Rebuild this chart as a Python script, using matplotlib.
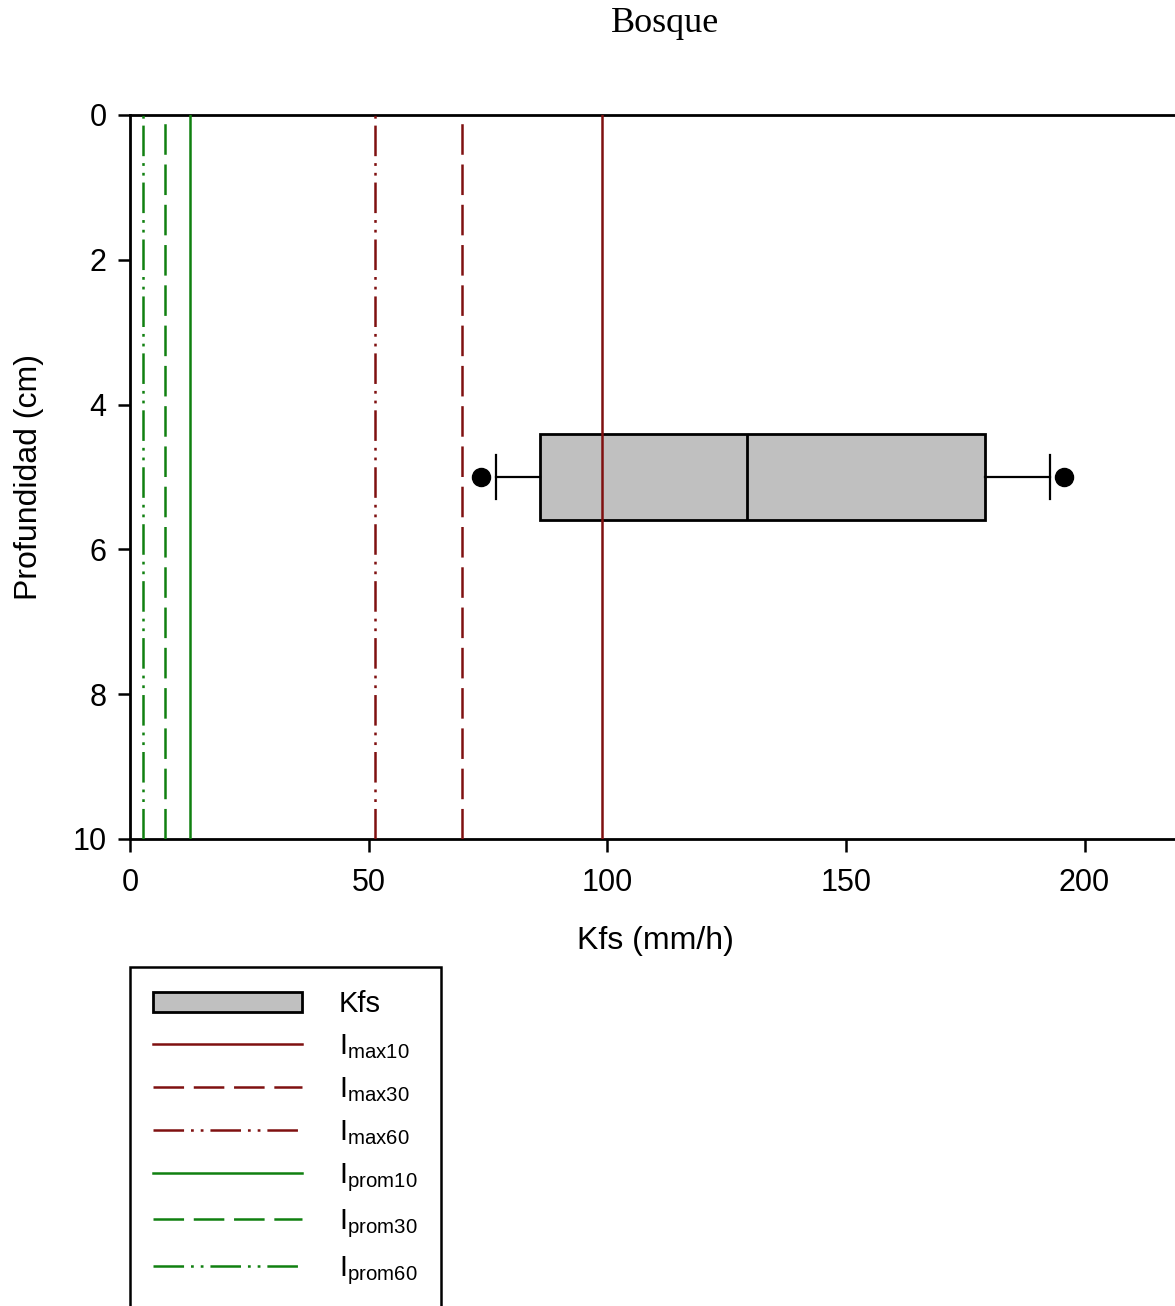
import matplotlib
matplotlib.use("Agg")
import matplotlib.pyplot as plt
from matplotlib.patches import Patch
from matplotlib.lines import Line2D

# box statistics for Kfs (mm/h)
kfs_stats = dict(whislo=76.7, q1=86.0, med=129.3, q3=179.2, whishi=192.7)
kfs_points = [73.6, 195.6]
box_depth = 5.0

# intensity reference lines (mm/h)
line_labels = ["max10", "max30", "max60", "prom10", "prom30", "prom60"]
line_values = [99.0, 69.6, 51.4, 12.6, 7.3, 2.7]

red = "#7f1010"
green = "#108010"
dash = (0, (22, 7))
dashdotdot = (0, (22, 5, 2, 5, 2, 5))
line_colors = [red, red, red, green, green, green]
line_styles = ["-", dash, dashdotdot, "-", dash, dashdotdot]

plt.rcParams["font.family"] = ["Liberation Sans", "DejaVu Sans"]
plt.rcParams["mathtext.fontset"] = "custom"
plt.rcParams["mathtext.rm"] = "Liberation Sans"
plt.rcParams["lines.scale_dashes"] = False

fig = plt.figure(figsize=(11.75, 13.06), dpi=100)
ax = fig.add_axes([130 / 1175, 1 - 839 / 1306, 1050 / 1175, 724 / 1306])

stats = dict(kfs_stats, fliers=kfs_points)
ax.bxp([stats], positions=[box_depth], widths=1.2, vert=False,
       patch_artist=True, showfliers=True, capwidths=0.62, manage_ticks=False,
       boxprops=dict(facecolor="#c0c0c0", edgecolor="black", linewidth=2),
       medianprops=dict(color="black", linewidth=2),
       whiskerprops=dict(color="black", linewidth=1.6),
       capprops=dict(color="black", linewidth=1.6),
       flierprops=dict(marker="o", markerfacecolor="black",
                       markeredgecolor="black", markersize=13))

for v, c, ls in zip(line_values, line_colors, line_styles):
    ax.axvline(v, color=c, linestyle=ls, linewidth=1.8, zorder=3)

ax.set_xlim(0, 220)
ax.set_ylim(10, 0)
ax.set_xticks([0, 50, 100, 150, 200])
ax.set_yticks([0, 2, 4, 6, 8, 10])
ax.tick_params(labelsize=22, length=9, width=1.8, direction="out")
ax.tick_params(axis="x", pad=12)
ax.tick_params(axis="y", pad=8)
ax.spines["right"].set_visible(False)
for s in ["top", "left", "bottom"]:
    ax.spines[s].set_linewidth(2)

ax.set_xlabel("Kfs (mm/h)", fontsize=23, labelpad=20)
ax.set_ylabel("Profundidad (cm)", fontsize=23, labelpad=20)
fig.text(665 / 1175, 1 - 24 / 1306, "Bosque", ha="center", va="center",
         fontsize=26, family="Liberation Serif")

handles = [Patch(facecolor="#c0c0c0", edgecolor="black", linewidth=2)]
labels = ["Kfs"]
for lab, c, ls in zip(line_labels, line_colors, line_styles):
    handles.append(Line2D([], [], color=c, linestyle=ls, linewidth=1.8))
    labels.append(r"I$_{\mathrm{" + lab + "}}$")

leg = fig.legend(handles, labels, loc="upper left",
                 bbox_to_anchor=(130 / 1175, 1 - 967 / 1306),
                 fontsize=21, frameon=True, fancybox=False, framealpha=1,
                 handlelength=5.1, handleheight=0.7, handletextpad=1.25,
                 labelspacing=0.48, borderpad=0.8, borderaxespad=0)
leg.get_frame().set_edgecolor("black")
leg.get_frame().set_linewidth(1.8)

fig.savefig("out.png", dpi=100)
